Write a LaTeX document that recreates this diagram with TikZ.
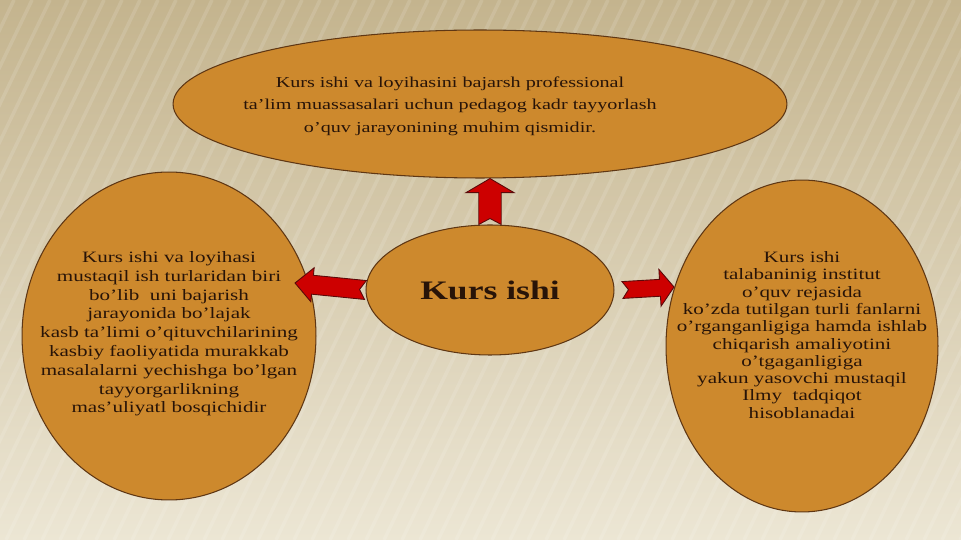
\documentclass[tikz,border=0pt]{standalone}
\usepackage{fontspec}
\setmainfont[FakeStretch=1.333]{Liberation Serif}
\usetikzlibrary{shapes.geometric,calc}

\definecolor{ovalfill}{RGB}{205,137,45}
\definecolor{ovalline}{RGB}{95,55,20}
\definecolor{inktext}{RGB}{40,20,8}
\definecolor{arrowred}{RGB}{205,0,0}
\definecolor{arrowline}{RGB}{90,10,10}
\definecolor{bgtop}{RGB}{196,180,142}
\definecolor{bgmid}{RGB}{220,208,178}
\definecolor{bgbot}{RGB}{236,230,212}

\newcommand\ovaltype[2]{\fontsize{#1}{#2}\selectfont\lineskiplimit=-\maxdimen}

\tikzset{
  oval/.style={draw=ovalline,line width=0.6pt,fill=ovalfill,ellipse,inner sep=0pt,text=inktext,align=center},
  ovaltext/.style={text=inktext,align=center,inner sep=0pt},
  bigarrow/.style={draw=arrowline,line width=0.5pt,fill=arrowred,line join=miter}
}

\newcommand\fatarrow[6]{%
  \draw[bigarrow] let \p1=($(#2)-(#1)$), \n1={atan2(\y1,\x1)}, \n2={veclen(\x1,\y1)} in
    ($(#1)+(\n1:#6)$) -- ($(#1)+(\n1+90:#3)$) -- ($(#1)+(\n1:\n2-#5)+(\n1+90:#3)$)
    -- ($(#1)+(\n1:\n2-#5)+(\n1+90:#4)$) -- (#2)
    -- ($(#1)+(\n1:\n2-#5)+(\n1-90:#4)$) -- ($(#1)+(\n1:\n2-#5)+(\n1-90:#3)$)
    -- ($(#1)+(\n1-90:#3)$) -- cycle;}

\begin{document}
\begin{tikzpicture}[x=0.02cm,y=-0.02cm]
  \fill[top color=bgtop,middle color=bgmid,bottom color=bgbot] (0,0) rectangle (961,540);
  \begin{scope}
    \clip (0,0) rectangle (961,540);
    \foreach \s in {-300,-282,...,960}
      \draw[white,opacity=0.12,line width=2pt] (\s,540) -- (\s+260,0);
  \end{scope}

  \node (topoval) at (480,104) [oval,minimum width=12.28cm,minimum height=2.96cm] {};
  \node (leftoval) at (169,336) [oval,minimum width=5.88cm,minimum height=6.56cm] {};
  \node (rightoval) at (802,346) [oval,minimum width=5.44cm,minimum height=6.64cm] {};
  \node (kurs) at (490,290) [oval,minimum width=4.96cm,minimum height=2.6cm,font=\fontsize{15.2}{17}\selectfont\bfseries] {Kurs ishi};

  \node (toptext) at (450,106) [ovaltext,font=\ovaltype{8.6}{12.8}]
    {Kurs ishi va loyihasini bajarsh professional\\ta’lim muassasalari uchun pedagog kadr tayyorlash\\o’quv jarayonining muhim qismidir.};
  \node (lefttext) at (169,334) [ovaltext,font=\ovaltype{9}{10.7}]
    {Kurs ishi va loyihasi\\mustaqil ish turlaridan biri\\bo’lib\ \ uni bajarish\\jarayonida bo’lajak\\kasb ta’limi o’qituvchilarining\\kasbiy faoliyatida murakkab\\masalalarni yechishga bo’lgan\\tayyorgarlikning\\mas’uliyatl bosqichidir};
  \node (righttext) at (802,335) [ovaltext,font=\ovaltype{9}{9.85}]
    {Kurs ishi\\talabaninig institut\\o’quv rejasida\\ko’zda tutilgan turli fanlarni\\o’rganganligiga hamda ishlab\\chiqarish amaliyotini\\o’tgaganligiga\\yakun yasovchi mustaqil\\Ilmy\ \ tadqiqot\\hisoblanadai};

  \coordinate (uptip) at (kurs.north |- topoval.south);
  \coordinate (lefttip) at (295,283);
  \coordinate (righttail) at ([xshift=0.16cm]kurs.east);
  \coordinate (righttip) at (674,287);
  \fatarrow{kurs.north}{uptip}{6.4pt}{13.6pt}{8pt}{3.4pt}
  \fatarrow{kurs.west}{lefttip}{5.4pt}{9.7pt}{10pt}{3.4pt}
  \fatarrow{righttail}{righttip}{4.8pt}{10.5pt}{8pt}{3.4pt}
\end{tikzpicture}
\end{document}
